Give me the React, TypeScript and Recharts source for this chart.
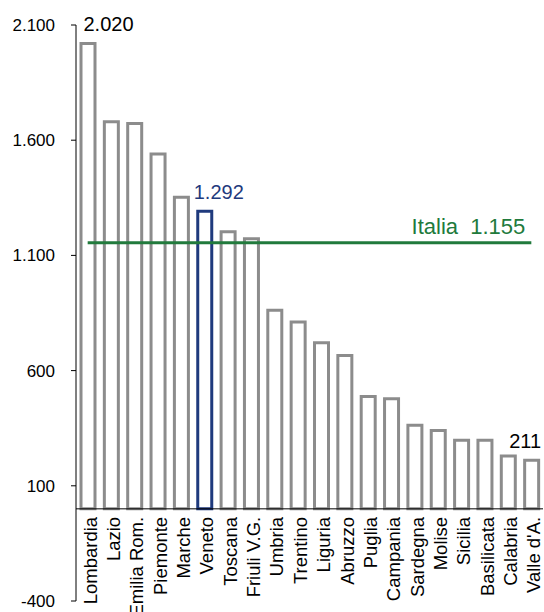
import { Bar, Line, XAxis, YAxis, ReferenceLine, Cell, LabelList, ComposedChart } from 'recharts'

const regions = [
  'Lombardia', 'Lazio', 'Emilia Rom.', 'Piemonte', 'Marche', 'Veneto', 'Toscana',
  'Friuli V.G.', 'Umbria', 'Trentino', 'Liguria', 'Abruzzo', 'Puglia', 'Campania',
  'Sardegna', 'Molise', 'Sicilia', 'Basilicata', 'Calabria', "Valle d'A.",
]
const values = [
  2020, 1680, 1672, 1540, 1352, 1292, 1203, 1172, 862, 811,
  721, 665, 488, 478, 363, 340, 298, 298, 229, 211,
]
const italiaValue = 1155
const yTicks = [-400, 100, 600, 1100, 1600, 2100]
const highlighted = 'Veneto'
const labelled = ['Lombardia', 'Veneto', "Valle d'A."]

const W = 544
const H = 612
const TOP = 25
const BOTTOM = 11
const Y_MIN = -400
const Y_MAX = 2100

const FONT = '"Liberation Sans", Arial, sans-serif'
const GRAY = '#8c8c8c'
const BLUE = '#1f3a7d'
const GREEN = '#217a3c'

const data = regions.map((name, i) => ({ name, value: values[i], italia: italiaValue }))

const fmt = (n: number) => String(n).replace(/\B(?=(\d{3})+(?!\d))/g, '.')

// y pixel of the zero line, so the region names hang under it
const plotH = H - TOP - BOTTOM
const zeroY = TOP + (Y_MAX / (Y_MAX - Y_MIN)) * plotH

function RegionTick({ x, payload }: any) {
  const tx = x + 9
  const ty = zeroY + 8
  return (
    <text
      x={tx}
      y={ty}
      transform={`rotate(-90, ${tx}, ${ty})`}
      textAnchor="end"
      fontSize={18.5}
      fontFamily={FONT}
      fill="#000"
    >
      {payload.value}
    </text>
  )
}

function ValueTick({ x, y, payload }: any) {
  return (
    <text x={x} y={y} dy={6} textAnchor="end" fontSize={17} fontFamily={FONT} fill="#000">
      {fmt(payload.value)}
    </text>
  )
}

function ValueLabel(props: any) {
  const { x, y, width, index } = props
  const d = data[index]
  if (!d || !labelled.includes(d.name)) return null
  const last = index === data.length - 1
  const color = d.name === highlighted ? BLUE : '#000'
  let tx = x + 2.5
  let anchor: 'start' | 'end' = 'start'
  if (d.name === highlighted) tx = x - 4
  if (last) {
    tx = x + width + 2.5
    anchor = 'end'
  }
  return (
    <text x={tx} y={y - 12} textAnchor={anchor} fontSize={20} fontFamily={FONT} fill={color}>
      {fmt(d.value)}
    </text>
  )
}

function ItaliaLabel(props: any) {
  const { x, y, index } = props
  if (index !== data.length - 1) return null
  return (
    <text
      x={x - 6}
      y={y - 9}
      textAnchor="end"
      fontSize={22}
      fontFamily={FONT}
      fill={GREEN}
      style={{ whiteSpace: 'pre' }}
    >
      {`Italia  ${fmt(italiaValue)}`}
    </text>
  )
}

export default function App() {
  return (
    <div style={{ position: 'absolute', left: 0, top: 0, background: '#fff' }}>
      <ComposedChart
        width={W}
        height={H}
        data={data}
        margin={{ top: TOP, right: 1, left: 0, bottom: 0 }}
      >
        <XAxis
          dataKey="name"
          height={BOTTOM}
          interval={0}
          axisLine={false}
          tickLine={false}
          tick={<RegionTick />}
        />
        <YAxis
          width={76}
          domain={[Y_MIN, Y_MAX]}
          ticks={yTicks}
          interval={0}
          tickSize={5}
          tickMargin={16}
          axisLine={{ stroke: '#000' }}
          tickLine={{ stroke: '#000' }}
          tick={<ValueTick />}
        />
        <ReferenceLine y={0} stroke="#000" strokeWidth={1} />
        <Bar dataKey="value" barSize={14} fill="#fff" strokeWidth={3} isAnimationActive={false}>
          {data.map(d => (
            <Cell key={d.name} stroke={d.name === highlighted ? BLUE : GRAY} fill="#fff" />
          ))}
          <LabelList dataKey="value" content={<ValueLabel />} />
        </Bar>
        <Line
          dataKey="italia"
          stroke={GREEN}
          strokeWidth={3}
          dot={false}
          activeDot={false}
          isAnimationActive={false}
        >
          <LabelList dataKey="italia" content={<ItaliaLabel />} />
        </Line>
      </ComposedChart>
    </div>
  )
}
